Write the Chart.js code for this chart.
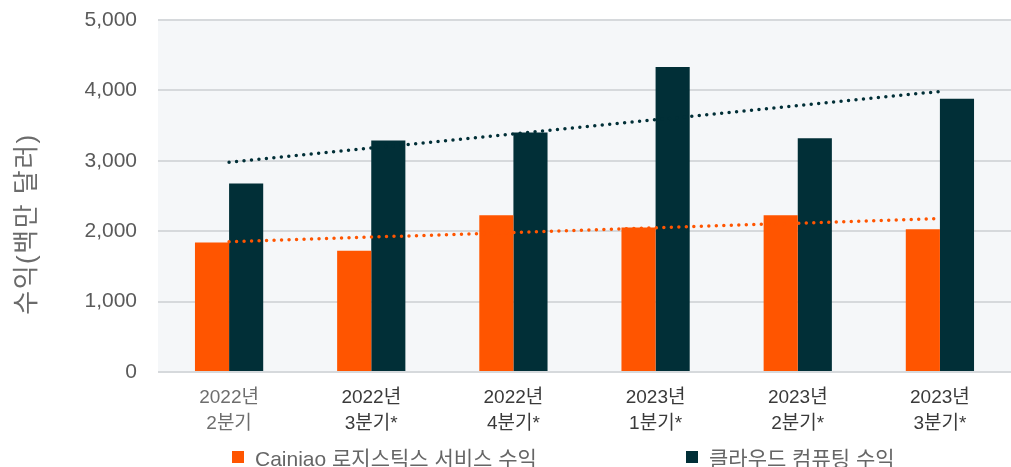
<!DOCTYPE html>
<html lang="ko">
<head>
<meta charset="utf-8">
<script src="https://cdn.jsdelivr.net/npm/chart.js@4.4.1/dist/chart.umd.min.js"></script>
<style>
    html, body { margin: 0; padding: 0; background: #ffffff; }
    #wrap { position: relative; width: 1011px; height: 467px; }
    #legend { position: absolute; left: 0; top: 445px; width: 1011px; height: 24px;
              font-family: 'Liberation Sans', 'Noto Sans CJK KR', sans-serif; font-size: 21px; color: #666666; }
    .legend-item { position: absolute; top: 0; display: flex; align-items: center; height: 24px; white-space: nowrap; }
    .legend-box { width: 12px; height: 12px; margin-right: 11px; }
</style>
</head>
<body>
<div id="wrap">
    <canvas id="revenueChart" width="1011" height="467"></canvas>
    <div id="legend"></div>
</div>
<script>
// Quarterly revenue, USD millions
const quarters = [
    ['2022년', '2분기'],
    ['2022년', '3분기*'],
    ['2022년', '4분기*'],
    ['2023년', '1분기*'],
    ['2023년', '2분기*'],
    ['2023년', '3분기*']
];
const cainiaoRevenue = [1838, 1724, 2226, 2051, 2226, 2027];
const cloudRevenue = [2677, 3289, 3403, 4331, 3321, 3881];

// Dotted trend lines: start and end values only
const cainiaoTrend = [1850, null, null, null, null, 2180];
const cloudTrend = [2980, null, null, null, null, 3985];

const yTicks = [0, 1000, 2000, 3000, 4000, 5000];

const seriesNames = ['Cainiao 로지스틱스 서비스 수익', '클라우드 컴퓨팅 수익'];
const yTitle = '수익(백만 달러)';

const ORANGE = '#FF5500';
const DARK = '#012F37';
const FONT = "'Liberation Sans', 'Noto Sans CJK KR', sans-serif";

// Light plot background + rotated y axis title
const plotBackground = {
    id: 'plotBackground',
    beforeDraw(chart) {
        const { ctx, chartArea } = chart;
        ctx.save();
        ctx.fillStyle = '#F5F7F9';
        ctx.fillRect(chartArea.left, chartArea.top, chartArea.right - chartArea.left, chartArea.bottom - chartArea.top);
        ctx.restore();
    },
    afterDraw(chart) {
        const ctx = chart.ctx;
        ctx.save();
        ctx.translate(28, 224);
        ctx.rotate(-Math.PI / 2);
        ctx.font = "26px " + FONT;
        ctx.letterSpacing = '1.5px';
        ctx.fillStyle = '#6b6b6b';
        ctx.textAlign = 'center';
        ctx.textBaseline = 'middle';
        ctx.fillText(yTitle, 0, 0);
        ctx.restore();
    }
};

const canvas = document.getElementById('revenueChart');

const chart = new Chart(canvas, {
    type: 'bar',
    data: {
        labels: quarters,
        datasets: [
            {
                type: 'line',
                data: cainiaoTrend,
                borderColor: ORANGE,
                borderWidth: 3.5,
                borderDash: [0, 7.5],
                borderCapStyle: 'round',
                pointRadius: 0,
                spanGaps: true,
                order: 0
            },
            {
                type: 'line',
                data: cloudTrend,
                borderColor: DARK,
                borderWidth: 3.5,
                borderDash: [0, 7.5],
                borderCapStyle: 'round',
                pointRadius: 0,
                spanGaps: true,
                order: 0
            },
            {
                label: seriesNames[0],
                data: cainiaoRevenue,
                backgroundColor: ORANGE,
                categoryPercentage: 0.48,
                barPercentage: 1.0,
                order: 1
            },
            {
                label: seriesNames[1],
                data: cloudRevenue,
                backgroundColor: DARK,
                categoryPercentage: 0.48,
                barPercentage: 1.0,
                order: 1
            }
        ]
    },
    options: {
        responsive: false,
        animation: false,
        locale: 'en-US',
        layout: { padding: { top: 20, right: 0, bottom: 0, left: 0 } },
        plugins: {
            legend: { display: false },
            tooltip: { enabled: false }
        },
        scales: {
            x: {
                grid: { display: false },
                border: { display: false },
                ticks: {
                    padding: 5,
                    maxRotation: 0,
                    autoSkip: false,
                    font: { family: FONT, size: 19, lineHeight: 1.35 },
                    color: (c) => c.index === 0 ? '#6e6e6e' : '#3a3a3a'
                },
                afterFit(scale) { scale.height = 95; }
            },
            y: {
                min: 0,
                max: 5000,
                afterBuildTicks(scale) { scale.ticks = yTicks.map(v => ({ value: v })); },
                // invisible tick marks push the labels away from the plot without adding top padding
                grid: { color: '#D6D9DC', lineWidth: 2, drawTicks: true, tickLength: 20, tickColor: 'rgba(0,0,0,0)' },
                border: { display: false },
                ticks: {
                    padding: 1,
                    font: { family: FONT, size: 21 },
                    color: '#5a5a5a'
                },
                afterFit(scale) { scale.width = 158; }
            }
        }
    },
    plugins: [plotBackground]
});

// HTML legend built from the bar datasets
const legendEl = document.getElementById('legend');
const legendLeft = [232, 686];
[2, 3].forEach((di, i) => {
    const ds = chart.data.datasets[di];
    const item = document.createElement('div');
    item.className = 'legend-item';
    item.style.left = legendLeft[i] + 'px';
    const box = document.createElement('span');
    box.className = 'legend-box';
    box.style.background = ds.backgroundColor;
    const txt = document.createElement('span');
    txt.textContent = ds.label;
    item.appendChild(box);
    item.appendChild(txt);
    legendEl.appendChild(item);
});
</script>
</body>
</html>
